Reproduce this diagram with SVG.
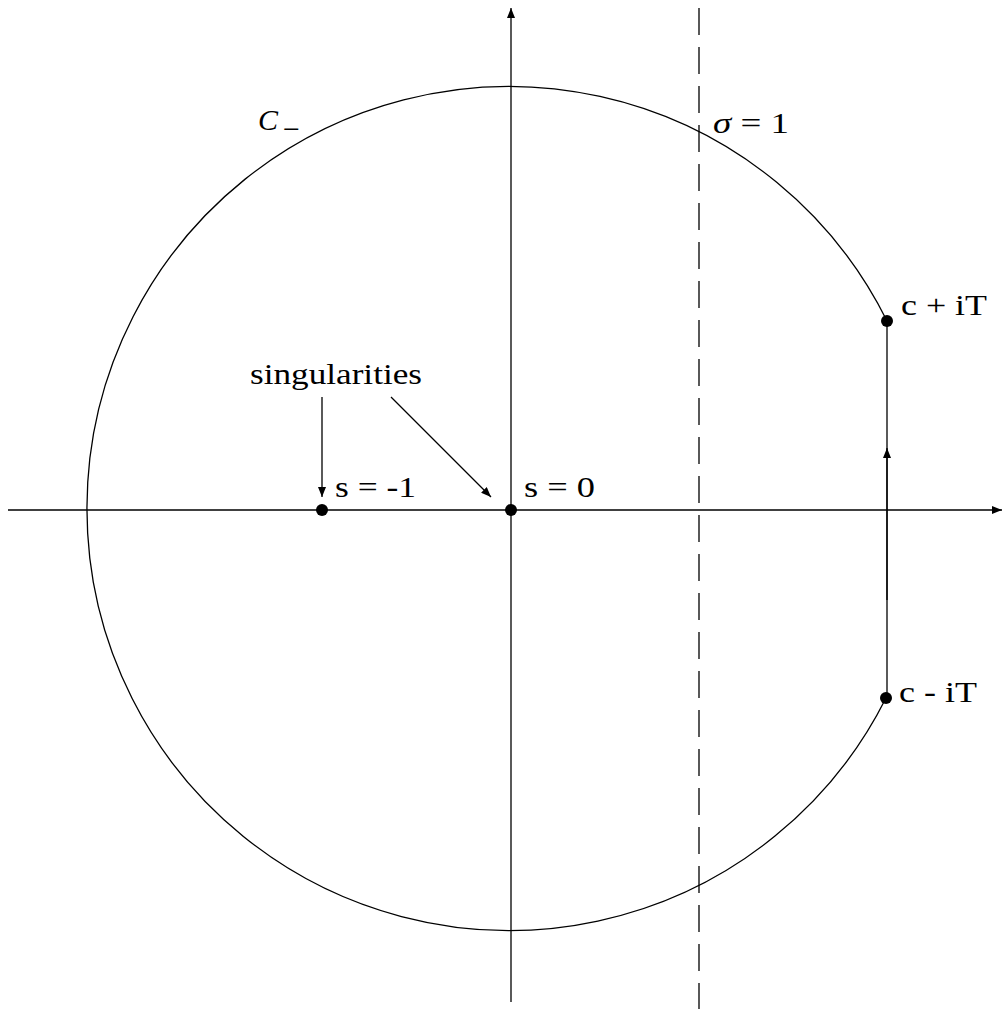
<svg xmlns="http://www.w3.org/2000/svg" width="1003" height="1009" viewBox="0 0 1003 1009">
<style>
.ln{stroke:#000;stroke-width:1.3;fill:none}
.t{font-family:"Liberation Serif","DejaVu Serif",serif;font-size:30px;fill:#000}
.dot{fill:#000}
</style>
<defs>
<marker id="ah" viewBox="0 0 10 8" refX="10" refY="4" markerWidth="10" markerHeight="8" markerUnits="userSpaceOnUse" orient="auto">
<path d="M0,0 L10,4 L0,8 Z" fill="#000"/>
</marker>
</defs>
<rect width="1003" height="1009" fill="#fff"/>
<g id="connectors">
<line id="x-axis" class="ln" x1="8" y1="510" x2="1002" y2="510" marker-end="url(#ah)"/>
<line id="y-axis" class="ln" x1="511" y1="1002" x2="511" y2="8" marker-end="url(#ah)"/>
<line id="sigma-line" class="ln" x1="699" y1="8" x2="699" y2="1009" stroke-dasharray="27,12"/>
<path id="contour" class="ln" d="M887,321 A422 422 0 1 0 886,698"/>
<line class="ln" x1="887" y1="698" x2="887" y2="321"/>
<line class="ln" x1="887" y1="600" x2="887" y2="448" marker-end="url(#ah)"/>
<line class="ln" x1="322" y1="397" x2="322" y2="497" marker-end="url(#ah)"/>
<line class="ln" x1="391" y1="397" x2="491" y2="497" marker-end="url(#ah)"/>
</g>
<g id="node-s-1"><circle class="dot" cx="322" cy="510" r="6"/><text class="t" x="335" y="497" textLength="81" lengthAdjust="spacingAndGlyphs">s = -1</text></g>
<g id="node-s0"><circle class="dot" cx="511" cy="510" r="6"/><text class="t" x="524" y="497" textLength="71" lengthAdjust="spacingAndGlyphs">s = 0</text></g>
<g id="node-cplus"><circle class="dot" cx="887" cy="321" r="6"/><text class="t" x="901" y="315" textLength="86" lengthAdjust="spacingAndGlyphs">c + iT</text></g>
<g id="node-cminus"><circle class="dot" cx="886" cy="698" r="6"/><text class="t" x="899" y="702" textLength="78" lengthAdjust="spacingAndGlyphs">c - iT</text></g>
<g id="label-sing"><text class="t" x="250" y="384" textLength="172" lengthAdjust="spacingAndGlyphs">singularities</text></g>
<g id="label-C"><text class="t" x="258" y="130" font-style="italic" font-size="34">C</text><text class="t" x="283" y="139" font-size="22">−</text></g>
<g id="label-sigma"><text class="t" x="713" y="133" textLength="76" lengthAdjust="spacingAndGlyphs"><tspan font-style="italic">σ</tspan> = 1</text></g>
</svg>
